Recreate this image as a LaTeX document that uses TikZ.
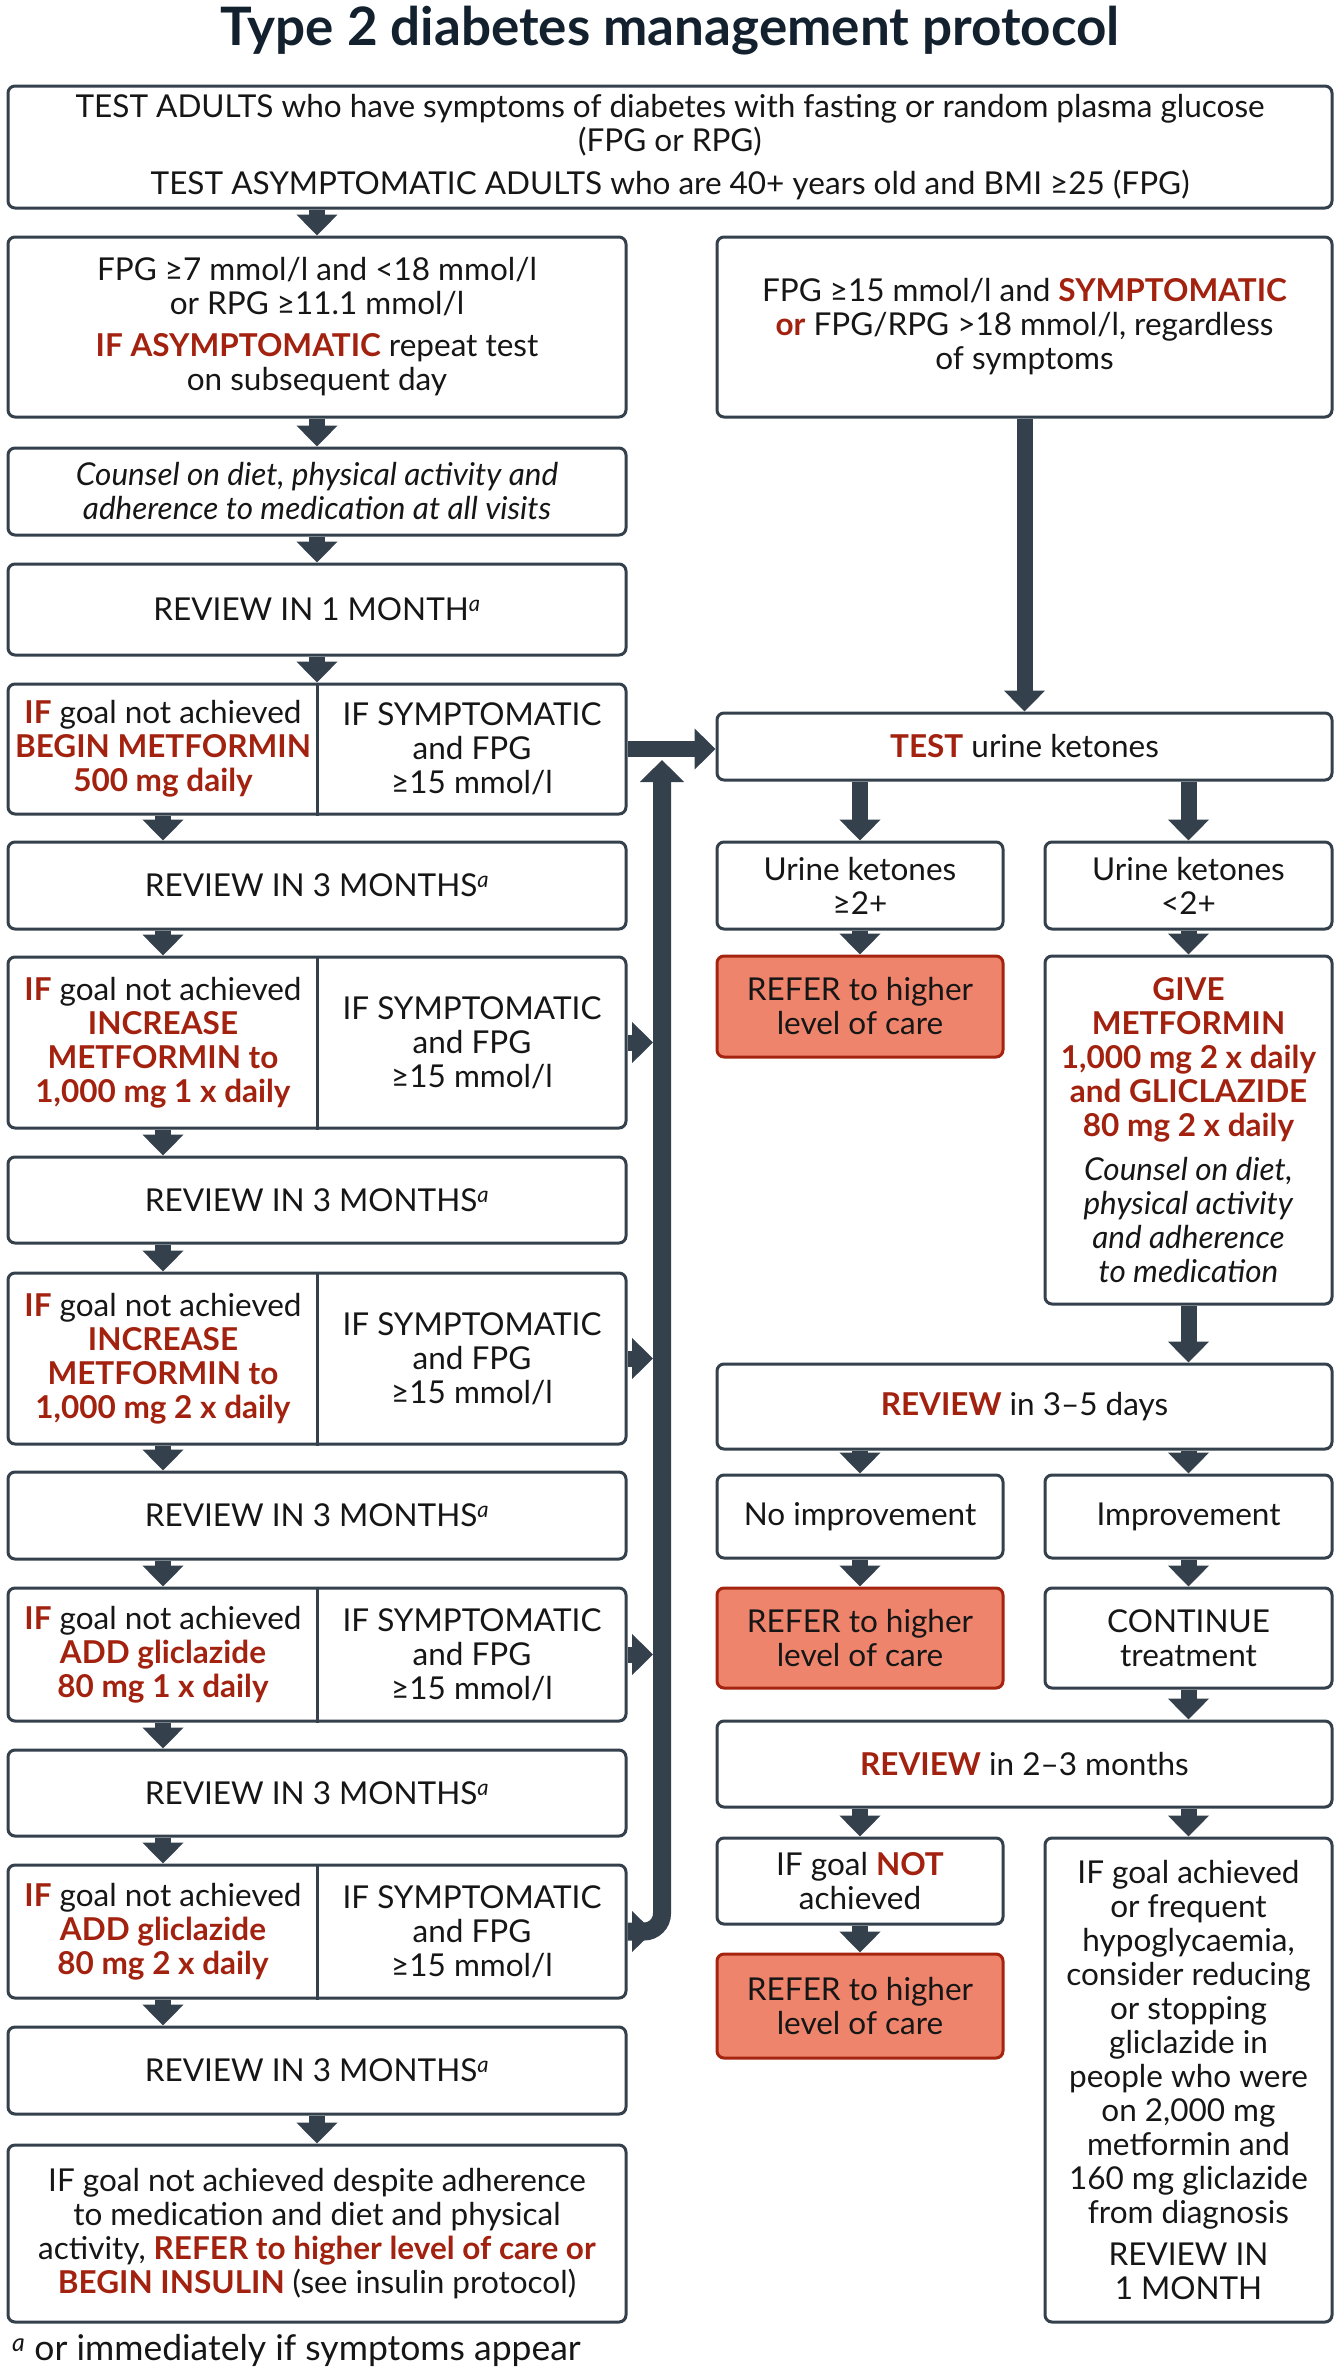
\documentclass[tikz,border=0pt]{standalone}
\usepackage{fontspec}
\setmainfont{Lato}
\usetikzlibrary{arrows.meta}

\definecolor{slate}{HTML}{34404B}
\definecolor{alert}{HTML}{A3220F}
\definecolor{salmon}{HTML}{EF846C}
\definecolor{referedge}{HTML}{A52410}
\definecolor{ink}{HTML}{161616}
\definecolor{titleink}{HTML}{13202E}

\newcommand{\hl}[1]{\textcolor{alert}{\textbf{#1}}}
\newcommand{\supa}{\textsuperscript{\textit{a}}}

\tikzset{
	box/.style={draw=slate, line width=3pt, rounded corners=7pt, fill=white, align=center, inner sep=0pt, text=ink, font=\fontsize{31.5}{34}\selectfont},
	referbox/.style={box, draw=referedge, fill=salmon},
	txt/.style={align=center, inner sep=0pt, text=ink, font=\fontsize{31.5}{34}\selectfont},
	arr/.style={draw=slate, line width=16pt, -{Triangle[width=40pt,length=21pt]}},
	bar/.style={draw=slate, line width=18pt, rounded corners=18pt, -{Triangle[width=43pt,length=22pt]}}
}

\begin{document}
\begin{tikzpicture}[x=1pt, y=-1pt]
		\useasboundingbox (0,0) rectangle (1340,2372);

		\draw (670,45) node[anchor=base, text=titleink, font=\fontsize{53}{59}\selectfont\bfseries] (title) {Type 2 diabetes management protocol};

		\draw (670,147) node[box, minimum width=1324pt, minimum height=122pt] (testadults) {TEST ADULTS who have symptoms of diabetes with fasting or random plasma glucose\\(FPG or RPG)\\[9pt]TEST ASYMPTOMATIC ADULTS who are 40+ years old and BMI ≥25 (FPG)};

		% left column
		\draw (317,327) node[box, minimum width=618pt, minimum height=180pt] (fpgseven) {FPG ≥7 mmol/l and <18 mmol/l\\or RPG ≥11.1 mmol/l\\[8pt]\hl{IF ASYMPTOMATIC} repeat test\\on subsequent day};
		\draw (317,491.5) node[box, minimum width=618pt, minimum height=87pt, font=\fontsize{31.5}{34}\selectfont\itshape] (counsel) {Counsel on diet, physical activity and\\adherence to medication at all visits};
		\draw (317,609.5) node[box, minimum width=618pt, minimum height=91pt] (reviewone) {REVIEW IN 1 MONTH\supa};

		\draw (317,749) node[box, minimum width=618pt, minimum height=130pt] (stepone) {};
		\draw (163,749) node[txt] (steponel) {\hl{IF} goal not achieved\\\hl{BEGIN METFORMIN}\\\hl{500 mg daily}};
		\draw (472,749) node[txt] (stepner) {IF SYMPTOMATIC\\and FPG\\≥15 mmol/l};
		\draw[draw=slate, line width=3pt] (stepone.north) -- (stepone.south);

		\draw (317,885.5) node[box, minimum width=618pt, minimum height=87pt] (reviewtwo) {REVIEW IN 3 MONTHS\supa};

		\draw (317,1042.5) node[box, minimum width=618pt, minimum height=171pt] (steptwo) {};
		\draw (163,1042.5) node[txt] (steptwol) {\hl{IF} goal not achieved\\\hl{INCREASE}\\\hl{METFORMIN to}\\\hl{1,000 mg 1 x daily}};
		\draw (472,1042.5) node[txt] (steptwor) {IF SYMPTOMATIC\\and FPG\\≥15 mmol/l};
		\draw[draw=slate, line width=3pt] (steptwo.north) -- (steptwo.south);

		\draw (317,1200) node[box, minimum width=618pt, minimum height=86pt] (reviewthree) {REVIEW IN 3 MONTHS\supa};

		\draw (317,1358.5) node[box, minimum width=618pt, minimum height=171pt] (stepthree) {};
		\draw (163,1358.5) node[txt] (stepthreel) {\hl{IF} goal not achieved\\\hl{INCREASE}\\\hl{METFORMIN to}\\\hl{1,000 mg 2 x daily}};
		\draw (472,1358.5) node[txt] (stepthreer) {IF SYMPTOMATIC\\and FPG\\≥15 mmol/l};
		\draw[draw=slate, line width=3pt] (stepthree.north) -- (stepthree.south);

		\draw (317,1515.5) node[box, minimum width=618pt, minimum height=87pt] (reviewfour) {REVIEW IN 3 MONTHS\supa};

		\draw (317,1654.5) node[box, minimum width=618pt, minimum height=133pt] (stepfour) {};
		\draw (163,1654.5) node[txt] (stepfourl) {\hl{IF} goal not achieved\\\hl{ADD gliclazide}\\\hl{80 mg 1 x daily}};
		\draw (472,1654.5) node[txt] (stepfourr) {IF SYMPTOMATIC\\and FPG\\≥15 mmol/l};
		\draw[draw=slate, line width=3pt] (stepfour.north) -- (stepfour.south);

		\draw (317,1793) node[box, minimum width=618pt, minimum height=86pt] (reviewfive) {REVIEW IN 3 MONTHS\supa};

		\draw (317,1931.5) node[box, minimum width=618pt, minimum height=133pt] (stepfive) {};
		\draw (163,1931.5) node[txt] (stepfivel) {\hl{IF} goal not achieved\\\hl{ADD gliclazide}\\\hl{80 mg 2 x daily}};
		\draw (472,1931.5) node[txt] (stepfiver) {IF SYMPTOMATIC\\and FPG\\≥15 mmol/l};
		\draw[draw=slate, line width=3pt] (stepfive.north) -- (stepfive.south);

		\draw (317,2070.5) node[box, minimum width=618pt, minimum height=87pt] (reviewsix) {REVIEW IN 3 MONTHS\supa};
		\draw (317,2233.5) node[box, minimum width=618pt, minimum height=177pt] (insulin) {IF goal not achieved despite adherence\\to medication and diet and physical\\activity, \hl{REFER to higher level of care or}\\\hl{BEGIN INSULIN} (see insulin protocol)};

		\draw (12,2350) node[anchor=west, txt, font=\fontsize{35.5}{40}\selectfont] (footnote) {\supa\ or immediately if symptoms appear};

		% right column
		\draw (1024.5,327) node[box, minimum width=615pt, minimum height=180pt] (fpgfifteen) {FPG ≥15 mmol/l and \hl{SYMPTOMATIC}\\\hl{or} FPG/RPG >18 mmol/l, regardless\\of symptoms};
		\draw (1024.5,746.5) node[box, minimum width=615pt, minimum height=67pt] (ketones) {\hl{TEST} urine ketones};
		\draw (860,885.5) node[box, minimum width=286pt, minimum height=87pt] (ketonehigh) {Urine ketones\\≥2+};
		\draw (1188.5,885.5) node[box, minimum width=287pt, minimum height=87pt] (ketonelow) {Urine ketones\\<2+};
		\draw (860,1006.5) node[referbox, minimum width=286pt, minimum height=101pt] (referone) {REFER to higher\\level of care};
		\draw (1188.5,1130) node[box, minimum width=287pt, minimum height=348pt] (give) {\hl{GIVE}\\\hl{METFORMIN}\\\hl{1,000 mg 2 x daily}\\\hl{and GLICLAZIDE}\\\hl{80 mg 2 x daily}\\[10pt]\textit{Counsel on diet,}\\\textit{physical activity}\\\textit{and adherence}\\\textit{to medication}};
		\draw (1024.5,1406.5) node[box, minimum width=615pt, minimum height=85pt] (reviewdays) {\hl{REVIEW} in 3–5 days};
		\draw (860,1516.5) node[box, minimum width=286pt, minimum height=83pt] (noimprove) {No improvement};
		\draw (1188.5,1516.5) node[box, minimum width=287pt, minimum height=83pt] (improve) {Improvement};
		\draw (860,1638) node[referbox, minimum width=286pt, minimum height=100pt] (refertwo) {REFER to higher\\level of care};
		\draw (1188.5,1638) node[box, minimum width=287pt, minimum height=100pt] (continue) {CONTINUE\\treatment};
		\draw (1024.5,1764) node[box, minimum width=615pt, minimum height=86pt] (reviewmonths) {\hl{REVIEW} in 2–3 months};
		\draw (860,1881) node[box, minimum width=286pt, minimum height=86pt] (goalnot) {IF goal \hl{NOT}\\achieved};
		\draw (1188.5,2080) node[box, minimum width=287pt, minimum height=484pt] (goalmet) {IF goal achieved\\or frequent\\hypoglycaemia,\\consider reducing\\or stopping\\gliclazide in\\people who were\\on 2,000 mg\\metformin and\\160 mg gliclazide\\from diagnosis\\[8pt]REVIEW IN\\1 MONTH};
		\draw (860,2006) node[referbox, minimum width=286pt, minimum height=104pt] (referthree) {REFER to higher\\level of care};

		\coordinate (bartop) at (662,760);
		\coordinate (barleft) at (653,760);

		% arrows left
		\draw[arr] (testadults.south -| fpgseven) -- (fpgseven.north);
		\draw[arr] (fpgseven.south) -- (counsel.north);
		\draw[arr] (counsel.south) -- (reviewone.north);
		\draw[arr] (reviewone.south) -- (stepone.north);
		\draw[arr] (stepone.south -| steponel) -- (reviewtwo.north -| steponel);
		\draw[arr] (reviewtwo.south -| steponel) -- (steptwo.north -| steponel);
		\draw[arr] (steptwo.south -| steponel) -- (reviewthree.north -| steponel);
		\draw[arr] (reviewthree.south -| steponel) -- (stepthree.north -| steponel);
		\draw[arr] (stepthree.south -| steponel) -- (reviewfour.north -| steponel);
		\draw[arr] (reviewfour.south -| steponel) -- (stepfour.north -| steponel);
		\draw[arr] (stepfour.south -| steponel) -- (reviewfive.north -| steponel);
		\draw[arr] (reviewfive.south -| steponel) -- (stepfive.north -| steponel);
		\draw[arr] (stepfive.south -| steponel) -- (reviewsix.north -| steponel);
		\draw[arr] (reviewsix.south) -- (insulin.north);

		% symptomatic bar
		\draw[bar] (stepfive.east) -| (bartop);
		\draw[arr] (steptwo.east) -- (steptwo.east -| barleft);
		\draw[arr] (stepthree.east) -- (stepthree.east -| barleft);
		\draw[arr] (stepfour.east) -- (stepfour.east -| barleft);
		\draw[arr] (stepfive.east) -- (stepfive.east -| barleft);
		\draw[arr] (stepone.east) -- (stepone.east -| ketones.west);

		% arrows right
		\draw[arr] (fpgfifteen.south) -- (ketones.north);
		\draw[arr] (ketones.south -| ketonehigh) -- (ketonehigh.north);
		\draw[arr] (ketones.south -| ketonelow) -- (ketonelow.north);
		\draw[arr] (ketonehigh.south) -- (referone.north);
		\draw[arr] (ketonelow.south) -- (give.north);
		\draw[arr] (give.south) -- (reviewdays.north -| give);
		\draw[arr] (reviewdays.south -| noimprove) -- (noimprove.north);
		\draw[arr] (reviewdays.south -| improve) -- (improve.north);
		\draw[arr] (noimprove.south) -- (refertwo.north);
		\draw[arr] (improve.south) -- (continue.north);
		\draw[arr] (continue.south) -- (reviewmonths.north -| continue);
		\draw[arr] (reviewmonths.south -| goalnot) -- (goalnot.north);
		\draw[arr] (reviewmonths.south -| goalmet) -- (goalmet.north);
		\draw[arr] (goalnot.south) -- (referthree.north);
	\end{tikzpicture}
\end{document}
